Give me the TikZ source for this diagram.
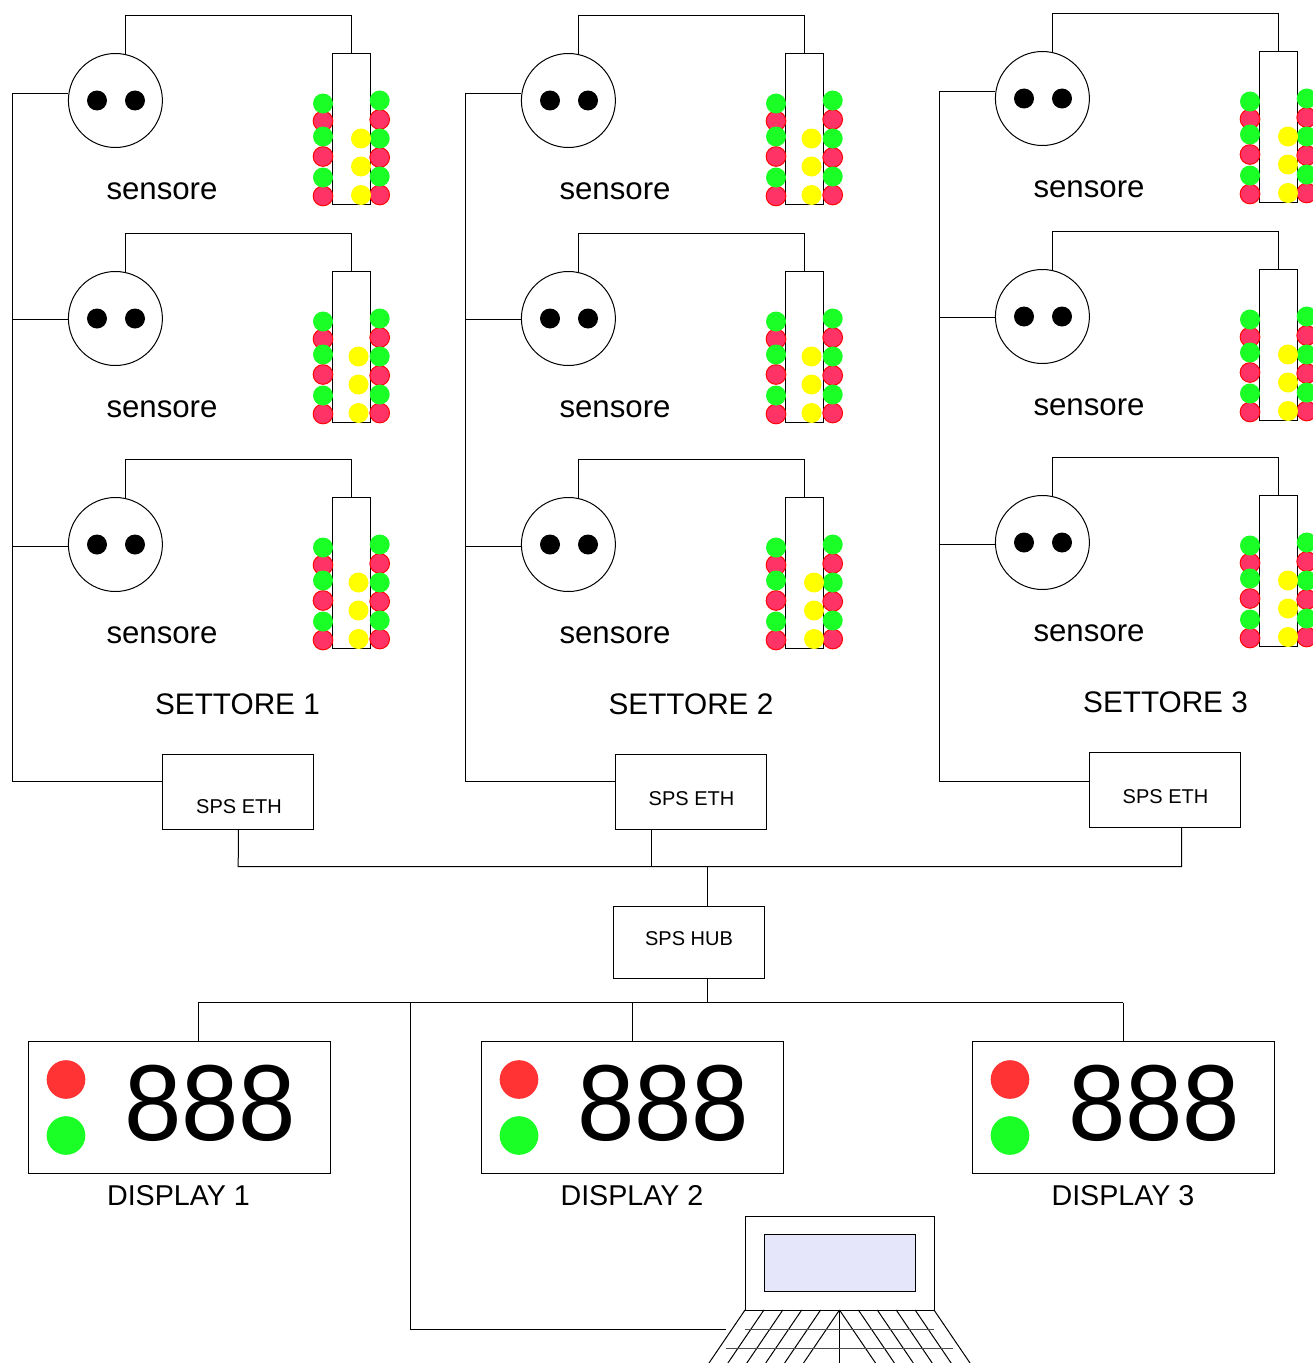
\documentclass[tikz,border=0pt]{standalone}
\usepackage{fontspec}
\setmainfont{Liberation Sans}
\definecolor{gled}{RGB}{26,255,38}
\definecolor{rled}{RGB}{255,51,102}
\definecolor{lampr}{RGB}{255,51,51}
\definecolor{scr}{RGB}{230,230,250}
\definecolor{yled}{RGB}{255,255,0}
\tikzset{
  wire/.style={draw=black,line width=0.75pt},
  sensorbody/.style={circle,draw=black,fill=white,line width=0.75pt,minimum size=70.5pt,inner sep=0pt},
  eye/.style={circle,fill=black,minimum size=15pt,inner sep=0pt},
  strip/.style={rectangle,draw=black,fill=white,line width=0.75pt,minimum width=28pt,minimum height=113pt,inner sep=0pt},
  gdot/.style={circle,fill=gled,minimum size=15pt,inner sep=0pt},
  rdot/.style={circle,draw=red,fill=rled,line width=0.7pt,minimum size=14.8pt,inner sep=0pt},
  ydot/.style={circle,fill=yled,minimum size=15pt,inner sep=0pt},
  sensetxt/.style={inner sep=0pt,font=\fontsize{23.4}{23}\selectfont},
  titletxt/.style={inner sep=0pt,font=\fontsize{22.3}{22}\selectfont},
  boxtxt/.style={inner sep=0pt,font=\fontsize{15}{15}\selectfont},
  disptxt/.style={inner sep=0pt,font=\fontsize{21.5}{21}\selectfont},
  bigtxt/.style={inner sep=0pt,font=\fontsize{81}{81}\selectfont},
  ethbox/.style={rectangle,draw=black,fill=white,line width=0.75pt,minimum width=113.25pt,minimum height=56.25pt,inner sep=0pt},
  hubbox/.style={rectangle,draw=black,fill=white,line width=0.75pt,minimum width=113.25pt,minimum height=54pt,inner sep=0pt},
  dispbox/.style={rectangle,draw=black,fill=white,line width=0.75pt,minimum width=226.5pt,minimum height=99pt,inner sep=0pt},
  lampred/.style={circle,fill=lampr,minimum size=29pt,inner sep=0pt},
  lampgreen/.style={circle,fill=gled,minimum size=29pt,inner sep=0pt},
  lid/.style={rectangle,draw=black,fill=white,line width=0.75pt,minimum width=141.75pt,minimum height=70.5pt,inner sep=0pt},
  screen/.style={rectangle,draw=black,fill=scr,line width=0.75pt,minimum width=113.6pt,minimum height=42.75pt,inner sep=0pt}
}
% id, ox, oy, yellow x, top wire offset
\newcommand{\sensorunit}[5]{%
  \node[sensorbody] (s#1) at ({#2+115.4},{#3+100.5}) {};
  \node[eye] (s#1e1) at ({#2+97},{#3+100.5}) {};
  \node[eye] (s#1e2) at ({#2+135},{#3+100.5}) {};
  \node[sensetxt] (s#1t) at ({#2+162},{#3+191}) {sensore};
  \node[strip] (r#1) at ({#2+351.4},{#3+129}) {};
  \coordinate (t#1) at ({#2+351.4},{#3+#5});
  \draw[wire] (s#1.78) |- (t#1) -- (r#1.north);
  \node[rdot] (r#1la) at ({#2+323},{#3+121}) {};
  \node[rdot] (r#1lb) at ({#2+323},{#3+156.5}) {};
  \node[rdot] (r#1lc) at ({#2+323},{#3+196}) {};
  \node[gdot] (r#1ga) at ({#2+323},{#3+103.5}) {};
  \node[gdot] (r#1gb) at ({#2+323},{#3+136.5}) {};
  \node[gdot] (r#1gc) at ({#2+323},{#3+177.5}) {};
  \node[rdot] (r#1ra) at ({#2+379.7},{#3+119.5}) {};
  \node[rdot] (r#1rb) at ({#2+379.7},{#3+157.5}) {};
  \node[rdot] (r#1rc) at ({#2+379.7},{#3+195}) {};
  \node[gdot] (r#1ha) at ({#2+379.7},{#3+100.5}) {};
  \node[gdot] (r#1hb) at ({#2+379.7},{#3+138.5}) {};
  \node[gdot] (r#1hc) at ({#2+379.7},{#3+176.5}) {};
  \node[ydot] (r#1ya) at ({#4},{#3+138.5}) {};
  \node[ydot] (r#1yb) at ({#4},{#3+166.5}) {};
  \node[ydot] (r#1yc) at ({#4},{#3+195}) {};
}
% id, x left of box
\newcommand{\displayunit}[2]{%
  \node[dispbox] (d#1) at ({#2+151},1107) {};
  \node[lampred] (d#1r) at ({#2+38},1079.5) {};
  \node[lampgreen] (d#1g) at ({#2+38},1135.5) {};
  \node[bigtxt] (d#1n) at ({#2+182.3},1103) {\scalebox{0.955}[1]{888}};
}
\begin{document}
\begin{tikzpicture}[x=0.75pt,y=-0.75pt]
\useasboundingbox (0,0) rectangle (1313,1363);
\clip (0,0) rectangle (1313,1363);
\fill[white] (0,0) rectangle (1313,1363);

% sector 1
\sensorunit{a}{0}{0}{361}{15.8}
\sensorunit{b}{0}{218}{358.5}{15.6}
\sensorunit{c}{0}{444}{358.5}{15.6}
% sector 2
\sensorunit{d}{453}{0}{811.5}{15.8}
\sensorunit{e}{453}{218}{811.5}{15.6}
\sensorunit{f}{453}{444}{814}{15.6}
% sector 3
\sensorunit{g}{927}{-2}{1288}{16}
\sensorunit{h}{927}{216}{1288}{15.8}
\sensorunit{i}{927}{442}{1288}{15.8}

% titles
\node[titletxt] (t1) at (237.5,704) {SETTORE 1};
\node[titletxt] (t2) at (691,704) {SETTORE 2};
\node[titletxt] (t3) at (1165.5,702) {SETTORE 3};

% SPS ETH boxes
\node[ethbox] (e1) at (238.4,791.5) {};
\node[ethbox] (e2) at (691.4,791.5) {};
\node[ethbox] (e3) at (1165.4,789.5) {};
\node[boxtxt] (e1t) at (239,806.5) {SPS ETH};
\node[boxtxt] (e2t) at (691.5,798.5) {SPS ETH};
\node[boxtxt] (e3t) at (1165.5,796.5) {SPS ETH};

% buses
\coordinate (ba) at (12,93.5);
\coordinate (bb) at (12,319.5);
\coordinate (bc) at (12,546.5);
\coordinate (bz) at (12,781.5);
\draw[wire] (ba -| sa.west) -- (ba) -- (bz) -- (bz -| e1.west);
\draw[wire] (bb -| sb.west) -- (bb);
\draw[wire] (bc -| sc.west) -- (bc);
\coordinate (bd) at (465,93.5);
\coordinate (be) at (465,319.5);
\coordinate (bf) at (465,546.5);
\coordinate (by) at (465,781.5);
\draw[wire] (bd -| sd.west) -- (bd) -- (by) -- (by -| e2.west);
\draw[wire] (be -| se.west) -- (be);
\draw[wire] (bf -| sf.west) -- (bf);
\coordinate (bg) at (939,91.5);
\coordinate (bh) at (939,317.5);
\coordinate (bi) at (939,544.5);
\coordinate (bx) at (939,781.5);
\draw[wire] (bg -| sg.west) -- (bg) -- (bx) -- (bx -| e3.west);
\draw[wire] (bh -| sh.west) -- (bh);
\draw[wire] (bi -| si.west) -- (bi);

% hub
\node[hubbox] (hub) at (688.6,942) {};
\node[boxtxt] (hubt) at (689,938.5) {SPS HUB};
\coordinate (u1) at (238.2,866.7);
\coordinate (u2) at (651.3,866.7);
\coordinate (u3) at (1181.5,866.7);
\coordinate (um) at (707.7,866.7);
\draw[wire] (e1.south) -- (u1) -- (u3) -- (1181.5,827.3);
\draw[wire] (651.3,829.3) -- (u2);
\draw[wire] (um) -- (um |- hub.north);
\coordinate (l0) at (707.7,978.5);
\coordinate (lm) at (707.7,1002.7);
\coordinate (l1) at (198,1002.7);
\coordinate (l2) at (632,1002.7);
\coordinate (l3) at (1123,1002.7);
\coordinate (l4) at (410.7,1002.7);
\coordinate (l5) at (410.7,1329);
\coordinate (l6) at (726,1329);
\draw[wire] (l0) -- (lm);
\draw[wire] (l1) -- (l3);

% displays
\displayunit{a}{28}
\displayunit{b}{481}
\displayunit{c}{972}
\draw[wire] (l1) -- (l1 |- da.north);
\draw[wire] (l2) -- (l2 |- db.north);
\draw[wire] (l3) -- (l3 |- dc.north);
\draw[wire] (l4) -- (l5) -- (l6);
\node[disptxt] (dal) at (178.5,1196) {DISPLAY 1};
\node[disptxt] (dbl) at (632,1196) {DISPLAY 2};
\node[disptxt] (dcl) at (1123,1196) {DISPLAY 3};

% laptop
\node[lid] (lap) at (839.6,1263) {};
\node[screen] (scrn) at (839.8,1263) {};
\foreach \k in {0,...,4}{
  \draw[wire] ({745+18.9*\k},1310) -- ({745+18.9*\k-36},1363);
  \draw[wire] ({934-18.9*\k},1310) -- ({934-18.9*\k+36},1363);
}
\draw[wire] (839.5,1310) -- (803.5,1363);
\draw[wire] (839.5,1310) -- (875.5,1363);
\draw[wire] (839.5,1310) -- (839.5,1363);
\draw[wire,draw=black!70] (745,1329) -- (934,1329);
\draw[wire,draw=black!70] (726,1348) -- (953,1348);
\end{tikzpicture}
\end{document}
